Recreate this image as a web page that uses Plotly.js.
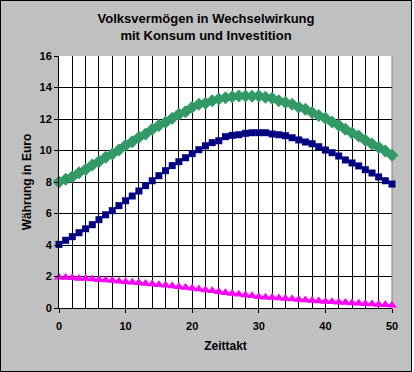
<!DOCTYPE html>
<html>
<head>
<meta charset="utf-8">
<script src="https://cdn.plot.ly/plotly-3.0.1.min.js"></script>
<style>
html,body{margin:0;padding:0;background:#ffffff;}
#chart{width:410px;height:370px;border:1px solid #000;}
</style>
</head>
<body>
<div id="chart"></div>
<script>
const zeittakt = [0,1,2,3,4,5,6,7,8,9,10,11,12,13,14,15,16,17,18,19,20,21,22,23,24,25,26,27,28,29,30,31,32,33,34,35,36,37,38,39,40,41,42,43,44,45,46,47,48,49,50];
const blueSeries = [4.04,4.30,4.53,4.78,5.03,5.29,5.61,5.92,6.18,6.50,6.81,7.11,7.43,7.77,8.08,8.40,8.72,9.04,9.29,9.54,9.80,10.05,10.30,10.50,10.62,10.88,10.96,11.00,11.09,11.13,11.13,11.13,11.05,11.00,10.94,10.81,10.67,10.54,10.43,10.24,10.03,9.86,9.65,9.40,9.21,9.02,8.78,8.57,8.32,8.08,7.87];
const greenSeries = [8.00,8.17,8.34,8.59,8.80,9.08,9.30,9.57,9.78,10.03,10.33,10.56,10.84,11.05,11.35,11.58,11.80,12.04,12.30,12.46,12.74,12.93,13.00,13.16,13.27,13.35,13.42,13.46,13.46,13.44,13.46,13.38,13.31,13.16,13.04,12.93,12.74,12.62,12.42,12.23,12.04,11.81,11.60,11.35,11.11,10.92,10.65,10.41,10.20,9.97,9.70];
const pinkSeries = [1.95,1.93,1.92,1.88,1.87,1.84,1.80,1.78,1.74,1.70,1.66,1.63,1.60,1.56,1.52,1.48,1.44,1.40,1.35,1.30,1.25,1.20,1.15,1.09,1.03,0.97,0.92,0.87,0.82,0.77,0.72,0.69,0.66,0.63,0.60,0.57,0.54,0.51,0.48,0.45,0.42,0.40,0.37,0.35,0.32,0.30,0.27,0.25,0.22,0.20,0.18];
const xTicks = [0,10,20,30,40,50];
const yTicks = [0,2,4,6,8,10,12,14,16];

const fontFam = 'Liberation Sans, Arial, sans-serif';

const traces = [
  {x: zeittakt, y: pinkSeries, mode:'lines+markers', cliponaxis:false,
   line:{color:'#FF00FF', width:1}, marker:{symbol:'triangle-up', size:9, color:'#FF00FF'}},
  {x: zeittakt, y: blueSeries, mode:'lines+markers', cliponaxis:false,
   line:{color:'#000080', width:1}, marker:{symbol:'square', size:7, color:'#000080'}},
  {x: zeittakt, y: greenSeries, mode:'lines+markers', cliponaxis:false,
   line:{color:'#339966', width:1}, marker:{symbol:'diamond', size:10, color:'#339966'}}
];

const layout = {
  width:410, height:370,
  margin:{l:58, r:19, t:55, b:63},
  paper_bgcolor:'#c0c0c0',
  plot_bgcolor:'#ffffff',
  showlegend:false,
  title:{text:'Volksvermögen in Wechselwirkung<br>mit Konsum und Investition',
    font:{family:fontFam, size:13, weight:'bold', color:'#000'},
    x:0.5, xref:'container', y:0.941, yref:'container', yanchor:'middle'},
  xaxis:{range:[0,50], tickvals:xTicks, ticktext:xTicks.map(String),
    ticks:'outside', ticklen:4, tickcolor:'#000',
    showline:true, linecolor:'#000', linewidth:1,
    showgrid:true, gridcolor:'#000', gridwidth:1, zeroline:false,
    minor:{dtick:2, showgrid:true, gridcolor:'#000', gridwidth:1},
    tickfont:{family:fontFam, size:11, weight:'bold', color:'#000'},
    ticklabelstandoff:4,
    title:{text:'Zeittakt', font:{family:fontFam, size:12, weight:'bold', color:'#000'}, standoff:10}},
  yaxis:{range:[0,16], tickvals:yTicks, ticktext:yTicks.map(String),
    ticks:'outside', ticklen:4, tickcolor:'#000',
    showline:true, linecolor:'#000', linewidth:1,
    showgrid:true, gridcolor:'#000', gridwidth:1, zeroline:false,
    tickfont:{family:fontFam, size:11, weight:'bold', color:'#000'},
    title:{text:'Währung in Euro', font:{family:fontFam, size:12, weight:'bold', color:'#000'}, standoff:5}},
  shapes:[
    {type:'line', xref:'paper', yref:'paper', x0:1, x1:1, y0:0, y1:1, layer:'between', line:{color:'#808080', width:1}}
  ]
};

Plotly.newPlot('chart', traces, layout, {displayModeBar:false, staticPlot:true});
</script>
</body>
</html>
